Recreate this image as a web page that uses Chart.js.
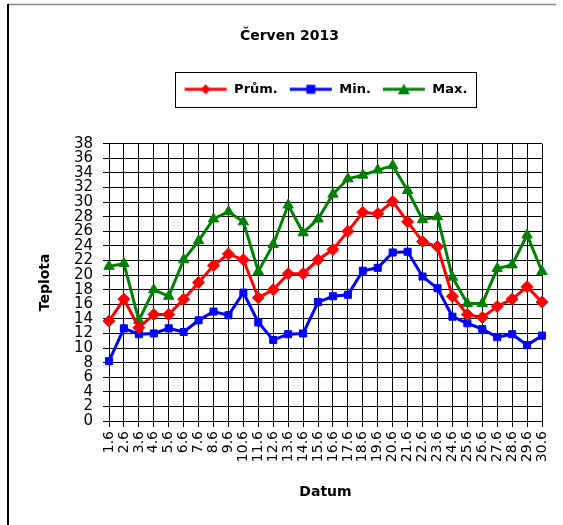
<!DOCTYPE html>
<html>
<head>
<meta charset="utf-8">
<script src="https://cdn.jsdelivr.net/npm/chart.js@4.4.1/dist/chart.umd.min.js"></script>
<style>
  html, body { margin: 0; padding: 0; background: #fff; }
  #wrap { width: 563px; height: 525px; position: relative; }
</style>
</head>
<body>
<div id="wrap"><canvas id="myChart" width="563" height="525"></canvas></div>
<script>
// data
const days = ['1.6','2.6','3.6','4.6','5.6','6.6','7.6','8.6','9.6','10.6',
  '11.6','12.6','13.6','14.6','15.6','16.6','17.6','18.6','19.6','20.6',
  '21.6','22.6','23.6','24.6','25.6','26.6','27.6','28.6','29.6','30.6'];

const avgTemp = [13.7, 16.7, 12.8, 14.6, 14.6, 16.7, 19.0, 21.3, 22.9, 22.1,
  16.9, 18.0, 20.2, 20.2, 22.1, 23.5, 26.0, 28.6, 28.4, 30.1,
  27.3, 24.6, 23.9, 17.1, 14.6, 14.2, 15.7, 16.7, 18.4, 16.3];

const minTemp = [8.2, 12.7, 11.9, 12.0, 12.7, 12.2, 13.8, 15.0, 14.5, 17.6,
  13.5, 11.1, 11.9, 12.0, 16.3, 17.1, 17.3, 20.6, 21.0, 23.1,
  23.2, 19.8, 18.2, 14.3, 13.4, 12.6, 11.5, 11.9, 10.4, 11.7];

const maxTemp = [21.2, 21.6, 13.8, 18.0, 17.1, 22.1, 24.7, 27.7, 28.7, 27.3,
  20.5, 24.2, 29.6, 25.8, 27.7, 31.1, 33.2, 33.7, 34.4, 35.0,
  31.6, 27.6, 28.0, 19.7, 16.1, 16.1, 20.9, 21.4, 25.5, 20.5];

const seriesNames = ['Prům.', 'Min.', 'Max.'];
const yTicksMax = 38;

const ctx = document.getElementById('myChart');
const boldFont = '"Comic Sans MS", "DejaVu Sans", sans-serif';

// small legend sample: line with the marker in the middle
function legendIcon(color, style) {
  const c = document.createElement('canvas');
  c.width = 44; c.height = 14;
  const g = c.getContext('2d');
  g.strokeStyle = color; g.fillStyle = color; g.lineWidth = 3;
  g.beginPath(); g.moveTo(1, 7); g.lineTo(43, 7); g.stroke();
  g.beginPath();
  if (style === 'rectRot') { g.moveTo(22, 2); g.lineTo(27, 7); g.lineTo(22, 12); g.lineTo(17, 7); }
  else if (style === 'rect') { g.rect(17.5, 2.5, 9, 9); }
  else { g.moveTo(22, 1.5); g.lineTo(28, 12); g.lineTo(16, 12); }
  g.closePath(); g.fill();
  return c;
}

const frame = {
  id: 'frame',
  afterDraw(chart) {
    const g = chart.ctx;
    g.save();
    // outer frame
    g.strokeStyle = '#888'; g.lineWidth = 1.5;
    g.beginPath(); g.moveTo(8, 4.5); g.lineTo(556, 4.5); g.stroke();
    g.strokeStyle = '#000'; g.lineWidth = 2;
    g.beginPath(); g.moveTo(8, 4); g.lineTo(8, 525); g.stroke();
    // box around legend items
    const hb = chart.legend.legendHitBoxes;
    if (hb && hb.length) {
      const l = hb[0].left - 9;
      const r = hb[hb.length - 1].left + hb[hb.length - 1].width + 8;
      const t = hb[0].top - 11;
      const h = hb[0].height + 22;
      g.strokeStyle = '#000'; g.lineWidth = 1;
      g.strokeRect(Math.round(l) + 0.5, Math.round(t) + 0.5, Math.round(r - l), Math.round(h));
    }
    g.restore();
  }
};

function makeSet(label, data, color, style, radius) {
  return {
    label: label,
    data: data,
    borderColor: color,
    backgroundColor: color,
    borderWidth: 3,
    pointStyle: style,
    pointRadius: radius,
    pointHoverRadius: radius,
    pointBorderWidth: 1,
    tension: 0
  };
}

const myChart = new Chart(ctx, {
  type: 'line',
  data: {
    labels: days,
    datasets: [
      makeSet(seriesNames[0], avgTemp, '#ff0000', 'rectRot', 6),
      makeSet(seriesNames[1], minTemp, '#0000ff', 'rect', 5),
      makeSet(seriesNames[2], maxTemp, '#008000', 'triangle', 6)
    ]
  },
  options: {
    responsive: false,
    animation: false,
    layout: { padding: { top: 4, left: 37, right: 21, bottom: 18 } },
    plugins: {
      title: {
        display: true,
        text: 'Červen 2013',
        color: '#000',
        font: { family: boldFont, size: 14, weight: 'bold' },
        padding: { top: 24, bottom: 27 }
      },
      subtitle: {
        // spacer between legend and plot
        display: true,
        text: '',
        weight: 500,
        font: { size: 10 },
        padding: { top: 0, bottom: 26 }
      },
      legend: {
        display: true,
        fullSize: false,
        labels: {
          usePointStyle: true,
          pointStyleWidth: 44,
          padding: 11,
          color: '#000',
          font: { family: boldFont, size: 13, weight: 'bold' },
          generateLabels(chart) {
            return chart.data.datasets.map((ds, i) => ({
              text: ds.label,
              fillStyle: ds.borderColor,
              strokeStyle: ds.borderColor,
              fontColor: '#000',
              lineWidth: 0,
              pointStyle: legendIcon(ds.borderColor, ds.pointStyle),
              datasetIndex: i
            }));
          }
        }
      },
      tooltip: { enabled: false }
    },
    scales: {
      x: {
        offset: false,
        grid: { color: '#000', lineWidth: 1, tickLength: 6 },
        border: { color: '#000', width: 1 },
        ticks: {
          autoSkip: false,
          maxRotation: 90,
          minRotation: 90,
          color: '#000',
          padding: 4,
          font: { family: '"DejaVu Sans", sans-serif', size: 14 }
        },
        title: {
          display: true,
          text: 'Datum',
          color: '#000',
          font: { family: boldFont, size: 14, weight: 'bold' },
          padding: { top: 4, bottom: 6 }
        },
        afterFit(scale) { scale.height = 86; }
      },
      y: {
        min: 0,
        max: yTicksMax,
        grid: { color: '#000', lineWidth: 1, tickLength: 6 },
        border: { color: '#000', width: 1 },
        ticks: {
          stepSize: 2,
          autoSkip: false,
          color: '#000',
          padding: 10,
          font: { family: '"DejaVu Sans", sans-serif', size: 15 }
        },
        title: {
          display: true,
          text: 'Teplota',
          color: '#000',
          font: { family: boldFont, size: 14, weight: 'bold' },
          padding: 0
        },
        afterFit(scale) { scale.width = 72; }
      }
    }
  },
  plugins: [frame]
});
</script>
</body>
</html>
